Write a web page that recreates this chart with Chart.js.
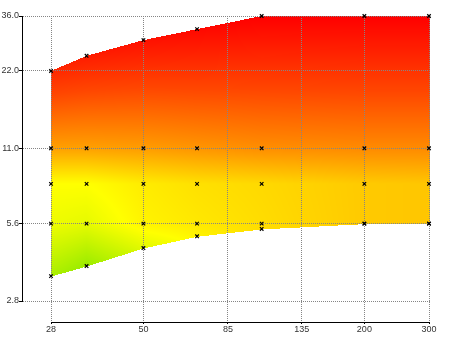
<!DOCTYPE html>
<html>
<head>
<meta charset="utf-8">
<script src="https://cdn.jsdelivr.net/npm/chart.js@4"></script>
<style>
  html, body { margin: 0; padding: 0; background: #fff; }
  #wrap { width: 450px; height: 337px; }
</style>
</head>
<body>
<div id="wrap"><canvas id="chart"></canvas></div>
<script>
// sample columns (x) and tick labels
const xValues = [28, 35, 50, 70, 105, 200, 300];
const xTicks = [28, 50, 85, 135, 200, 300];
const yTicks = [2.8, 5.6, 11, 22, 36];

// y position of each sample row, per column (top edge down to bottom edge)
const yTop = [22, 25.2, 29, 32, 36, 36, 36];
const y11 = [11, 11, 11, 11, 11, 11, 11];
const y8 = [8, 8, 8, 8, 8, 8, 8];
const y56 = [5.6, 5.6, 5.6, 5.6, 5.6, 5.6, 5.6];
const yBottom = [3.5, 3.83, 4.5, 5.0, 5.34, 5.6, 5.6];

// value at each sample (0 = green, 100 = red)
const zTop = [86, 90, 94, 97, 100, 100, 100];
const z11 = [50, 50, 51, 53, 55, 56, 56];
const z8 = [25, 25, 30, 33, 35, 39, 40];
const z56 = [21, 19, 28, 31, 34, 39, 40];
const zBottom = [5, 1, 18, 28, 34, 39, 40];

const rowsY = [yTop, y11, y8, y56, yBottom];
const rowsZ = [zTop, z11, z8, z56, zBottom];

const colorStops = [
  [0, [150, 235, 0]],
  [25, [255, 255, 0]],
  [50, [255, 160, 0]],
  [75, [255, 70, 0]],
  [100, [255, 0, 0]]
];

function colorAt(z) {
  if (z <= colorStops[0][0]) return colorStops[0][1];
  for (let i = 1; i < colorStops.length; i++) {
    if (z <= colorStops[i][0]) {
      const [z0, c0] = colorStops[i - 1];
      const [z1, c1] = colorStops[i];
      const t = (z - z0) / (z1 - z0);
      return [0, 1, 2].map(k => Math.round(c0[k] + (c1[k] - c0[k]) * t));
    }
  }
  return colorStops[colorStops.length - 1][1];
}

const heatFill = {
  id: "heatFill",
  // fill the sampled region, interpolating between columns and rows
  beforeDraw(chart) {
    const { ctx, chartArea: a, scales } = chart;
    const xs = scales.x, ys = scales.y;
    const cols = xValues.map(v => xs.getPixelForValue(v));
    const w = Math.ceil(a.right - a.left) + 1;
    const h = Math.ceil(a.bottom - a.top) + 1;
    const off = document.createElement("canvas");
    off.width = w;
    off.height = h;
    const octx = off.getContext("2d");
    const img = octx.createImageData(w, h);
    for (let px = 0; px < w; px++) {
      const cx = a.left + px + 0.5;
      if (cx < cols[0] || cx > cols[cols.length - 1] + 1) continue;
      let i = 0;
      while (i < cols.length - 2 && cx > cols[i + 1]) i++;
      const t = Math.min(1, (cx - cols[i]) / (cols[i + 1] - cols[i]));
      const py = rowsY.map(r => {
        const p0 = ys.getPixelForValue(r[i]);
        const p1 = ys.getPixelForValue(r[i + 1]);
        return p0 + (p1 - p0) * t;
      });
      const pz = rowsZ.map(r => r[i] + (r[i + 1] - r[i]) * t);
      for (let qy = 0; qy < h; qy++) {
        const cy = a.top + qy + 0.5;
        if (cy < py[0] || cy > py[py.length - 1] + 0.5) continue;
        let j = 0;
        while (j < py.length - 2 && cy > py[j + 1]) j++;
        const span = py[j + 1] - py[j];
        const u = span > 0 ? Math.min(1, (cy - py[j]) / span) : 0;
        const c = colorAt(pz[j] + (pz[j + 1] - pz[j]) * u);
        const k = (qy * w + px) * 4;
        img.data[k] = c[0];
        img.data[k + 1] = c[1];
        img.data[k + 2] = c[2];
        img.data[k + 3] = 255;
      }
    }
    octx.putImageData(img, 0, 0);
    ctx.drawImage(off, a.left, a.top);
  },
  // dotted grid over the fill
  beforeDatasetsDraw(chart) {
    const { ctx, chartArea: a, scales } = chart;
    ctx.save();
    ctx.fillStyle = "#858585";
    xTicks.forEach(v => {
      const px = Math.min(Math.floor(scales.x.getPixelForValue(v)), Math.floor(a.right));
      for (let y = Math.floor(a.top); y <= a.bottom; y += 2) ctx.fillRect(px, y, 1, 1);
    });
    yTicks.forEach(v => {
      const py = Math.floor(scales.y.getPixelForValue(v));
      for (let x = Math.floor(a.left) + 1; x <= a.right; x += 2) ctx.fillRect(x, py, 1, 1);
    });
    ctx.restore();
  },
  afterDraw(chart) {
    const { ctx, scales } = chart;
    const xs = scales.x, ys = scales.y;
    const left = Math.round(xs.left) + 0.5;
    const bottom = Math.round(ys.bottom) + 0.5;
    ctx.save();
    ctx.strokeStyle = "#000";
    ctx.lineWidth = 1;
    ctx.beginPath();
    ctx.moveTo(left, ys.getPixelForValue(yTicks[yTicks.length - 1]));
    ctx.lineTo(left, ys.getPixelForValue(yTicks[0]) + 1);
    ctx.moveTo(xs.getPixelForValue(xTicks[0]), bottom);
    ctx.lineTo(xs.getPixelForValue(xTicks[xTicks.length - 1]) + 1, bottom);
    ctx.stroke();
    ctx.restore();
  }
};

const markers = [];
rowsY.forEach(row => row.forEach((v, i) => markers.push({ x: xValues[i], y: v })));

const tickFont = { family: "Liberation Sans", size: 9 };

new Chart(document.getElementById("chart"), {
  type: "scatter",
  data: {
    datasets: [
      {
        data: markers,
        pointStyle: "crossRot",
        pointRadius: 2.5,
        pointHoverRadius: 2.5,
        borderColor: "#000",
        backgroundColor: "#000",
        borderWidth: 1.2,
        clip: false
      }
    ]
  },
  options: {
    responsive: true,
    maintainAspectRatio: false,
    animation: false,
    events: [],
    layout: { padding: { top: 16, right: 21, left: 0, bottom: 0 } },
    plugins: { legend: { display: false }, tooltip: { enabled: false } },
    scales: {
      x: {
        type: "logarithmic",
        min: 23.34,
        max: 300,
        afterBuildTicks: s => { s.ticks = xTicks.map(v => ({ value: v })); },
        afterFit: s => { s.height = 15; },
        ticks: {
          autoSkip: false,
          maxRotation: 0,
          padding: 0,
          color: "#333",
          font: tickFont,
          callback: v => String(v)
        },
        grid: { drawOnChartArea: false, tickLength: 2, tickColor: "#000" },
        border: { display: false }
      },
      y: {
        type: "logarithmic",
        min: 2.32,
        max: 36,
        afterBuildTicks: s => { s.ticks = yTicks.map(v => ({ value: v })); },
        afterFit: s => { s.width = 22; },
        ticks: {
          autoSkip: false,
          padding: 0,
          color: "#333",
          font: tickFont,
          callback: v => Number(v).toFixed(1)
        },
        grid: { drawOnChartArea: false, tickLength: 3, tickColor: "#000" },
        border: { display: false }
      }
    }
  },
  plugins: [heatFill]
});
</script>
</body>
</html>
